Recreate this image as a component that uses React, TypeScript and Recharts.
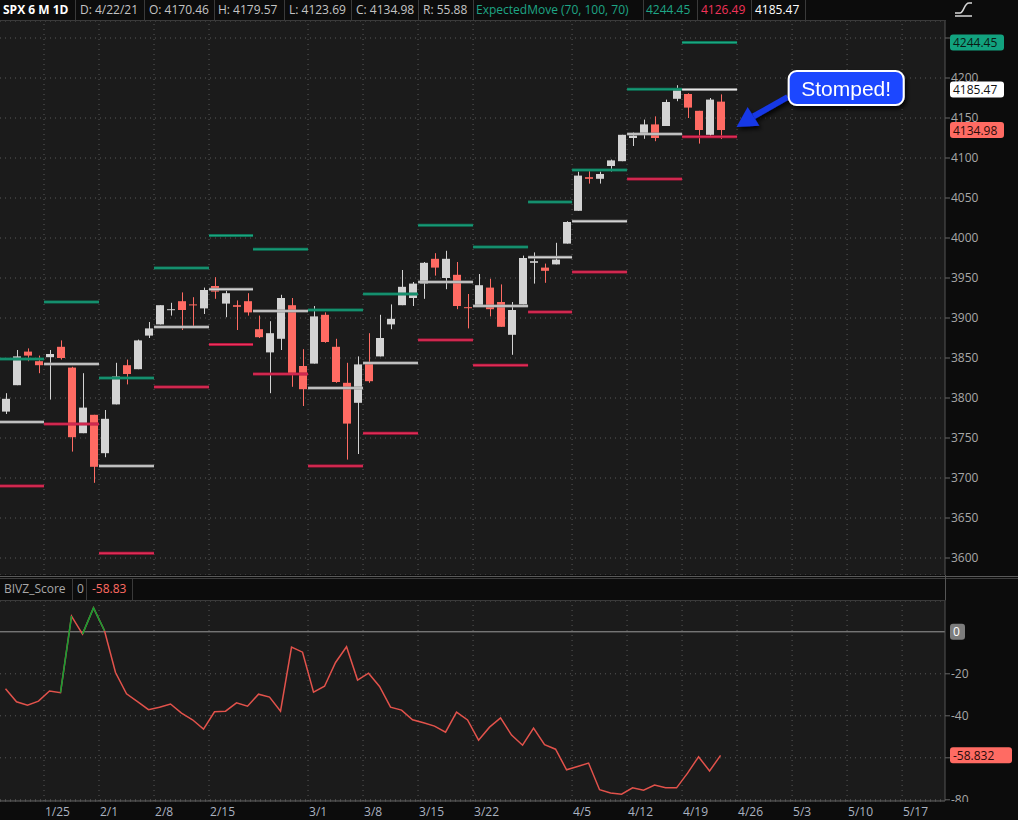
import React from "react";
import {
  ComposedChart,
  Bar,
  Line,
  XAxis,
  YAxis,
  CartesianGrid,
  ReferenceLine,
} from "recharts";

// trading days shown (1/19/21 .. 4/22/21)
const dates = [
  "1/19", "1/20", "1/21", "1/22", "1/25", "1/26", "1/27", "1/28", "1/29",
  "2/1", "2/2", "2/3", "2/4", "2/5", "2/8", "2/9", "2/10", "2/11", "2/12",
  "2/16", "2/17", "2/18", "2/19", "2/22", "2/23", "2/24", "2/25", "2/26",
  "3/1", "3/2", "3/3", "3/4", "3/5", "3/8", "3/9", "3/10", "3/11", "3/12",
  "3/15", "3/16", "3/17", "3/18", "3/19", "3/22", "3/23", "3/24", "3/25", "3/26",
  "3/29", "3/30", "3/31", "4/1", "4/5", "4/6", "4/7", "4/8", "4/9",
  "4/12", "4/13", "4/14", "4/15", "4/16", "4/19", "4/20", "4/21", "4/22",
];

const opens = [
  3783, 3816, 3858, 3846, 3851, 3864, 3838, 3756, 3779,
  3731, 3792, 3841, 3836, 3878, 3892, 3910, 3921, 3917, 3912,
  3940, 3918, 3916, 3921, 3886, 3857, 3874, 3916, 3840,
  3843, 3904, 3864, 3819, 3794, 3844, 3852, 3892, 3916, 3925,
  3943, 3974, 3950, 3954, 3913.5, 3916, 3938, 3920, 3879, 3917,
  3969, 3963, 3967, 3993, 4034, 4076, 4074, 4090, 4096,
  4125, 4130, 4142, 4140, 4174, 4180, 4159, 4129, 4170.46,
];
const highs = [
  3806, 3860, 3862, 3853, 3860, 3872, 3839, 3831, 3779,
  3785, 3844, 3848, 3873, 3895, 3916, 3919, 3932, 3926, 3938,
  3951, 3934, 3922, 3931, 3903, 3896, 3929, 3925, 3861,
  3915, 3907, 3874, 3844, 3852, 3881, 3904, 3917, 3960, 3945,
  3970, 3981, 3984, 3970, 3930, 3955, 3949, 3942, 3920, 3978,
  3982, 3968, 3994, 4021, 4083, 4086, 4083, 4098, 4129,
  4132, 4148, 4152, 4173, 4191, 4181, 4159, 4175, 4179.57,
];
const lows = [
  3780, 3816, 3846, 3831, 3798, 3848, 3733, 3756, 3694,
  3726, 3792, 3817, 3836, 3875, 3892, 3903, 3885, 3890, 3905,
  3924, 3901, 3885, 3903, 3875, 3806, 3860, 3814, 3790,
  3843, 3869, 3819, 3723, 3730, 3819, 3852, 3886, 3916, 3915,
  3924, 3953, 3936, 3911, 3887, 3914, 3902, 3889, 3854, 3917,
  3943, 3944, 3967, 3993, 4034, 4068, 4068, 4083, 4096,
  4115, 4124, 4121, 4140, 4171, 4150, 4118, 4126, 4123.69,
];
const closes = [
  3799, 3852, 3853, 3841, 3855, 3850, 3751, 3788, 3714,
  3774, 3827, 3830, 3872, 3887, 3916, 3911, 3910, 3916, 3935,
  3933, 3931, 3914, 3907, 3876, 3881, 3925, 3829, 3811,
  3902, 3870, 3820, 3768, 3842, 3821, 3875, 3899, 3939, 3943,
  3969, 3963, 3974, 3915, 3913, 3941, 3911, 3889, 3910, 3975,
  3971, 3959, 3973, 4020, 4078, 4074, 4080, 4097, 4129,
  4128, 4142, 4125, 4170, 4185, 4163, 4135, 4173, 4134.98,
];

// BIVZ_Score study, one value per trading day
const bivz = [
  -27.1, -33.3, -34.9, -33, -28.2, -29, 7.5, -1.1, 11.4,
  0.5, -19.4, -29.5, -33.2, -37.1, -35.9, -34.4, -38.7, -41.9, -46.3,
  -38.1, -37.8, -33.8, -35.4, -29.7, -31.1, -37.8, -7.3, -9.7,
  -28.7, -25.9, -14.6, -7.1, -23, -19.7, -26, -35.9, -37.3, -41.9,
  -43.3, -44.9, -47.8, -38.2, -42, -51.6, -45.4, -41, -49.2, -54,
  -45.9, -53.7, -55.9, -65.7, -64.1, -62.5, -75.2, -76.8, -77.3,
  -74.3, -75.4, -73, -74.3, -74.3, -67.3, -59.5, -66.3, -58.832,
];

// weekly expected move levels (first / last trading-day index of each week)
const weekStart = [0, 4, 9, 14, 19, 23, 28, 33, 38, 43, 48, 52, 57, 62];
const weekEnd = [3, 8, 13, 18, 22, 27, 32, 37, 42, 47, 51, 56, 61, 66];
const emUpper = [3848.75, 3920, 3825, 3962.5, 4003, 3986, 3910, 3930, 4016, 3988.75, 4045, 4085, 4186, 4244.45];
const emMid = [3770, 3842.5, 3715, 3888.75, 3936, 3908.75, 3812.5, 3843.75, 3945, 3915, 3976, 4021, 4130, 4185.47];
const emLower = [3690, 3767.5, 3606, 3813.75, 3867, 3830, 3715, 3756, 3872.5, 3841, 3907.5, 3957.5, 4073.75, 4126.49];

const tickIdx = [4, 9, 14, 19, 28, 33, 38, 43, 52, 57, 62, 67, 72, 77, 82];
const tickLabels = ["1/25", "2/1", "2/8", "2/15", "3/1", "3/8", "3/15", "3/22", "4/5", "4/12", "4/19", "4/26", "5/3", "5/10", "5/17"];

const priceTicks = [3600, 3650, 3700, 3750, 3800, 3850, 3900, 3950, 4000, 4050, 4100, 4150, 4200, 4250];
const scoreTicks = [-80, -60, -40, -20];

const X_DOMAIN: [number, number] = [-0.5, 85.4];
const PRICE_DOMAIN: [number, number] = [3578.75, 4271.25];
const SCORE_DOMAIN: [number, number] = [-80.57, 14.67];
const FONT = '"Open Sans", "DejaVu Sans", sans-serif';
const BG = "#0c0c0c";
const PLOT_BG = "#1b1b1b";
const GRID = "#585858";
const AXIS_TEXT = "#a8a8a8";
const UP = "#d3d3d3";
const DOWN = "#ff6b63";

const candles = dates.map((d, i) => ({
  i,
  date: d,
  o: opens[i],
  h: highs[i],
  l: lows[i],
  c: closes[i],
}));

// green where the segment ends at or above zero
const greenRuns: number[][] = [];
let run: number[] | null = null;
for (let i = 1; i < bivz.length; i++) {
  if (bivz[i] >= 0) {
    if (!run) {
      run = [i - 1];
      greenRuns.push(run);
    }
    run.push(i);
  } else run = null;
}

const scoreRows = bivz.map((v, i) => {
  const row: any = { i, score: v };
  greenRuns.forEach((r, k) => {
    row["g" + k] = r.includes(i) ? v : null;
  });
  return row;
});

function Candle(props: any) {
  const { x, y, width, height, payload } = props;
  if (!payload || !Number.isFinite(y) || !Number.isFinite(height)) return null;
  const top = Math.min(y, y + height);
  const span = Math.abs(height);
  const k = span / (payload.h - payload.l || 1);
  const yOf = (v: number) => top + (payload.h - v) * k;
  const color = payload.c >= payload.o ? UP : DOWN;
  const cx = Math.floor(x + width / 2) + 0.5;
  const bodyTop = yOf(Math.max(payload.o, payload.c));
  const bodyH = Math.max(1, yOf(Math.min(payload.o, payload.c)) - bodyTop);
  return (
    <g>
      <line x1={cx} x2={cx} y1={top} y2={top + span} stroke={color} strokeWidth={1} />
      <rect x={cx - 4.5} y={bodyTop} width={8} height={bodyH} fill={color} />
    </g>
  );
}

const badge = (text: string, bg: string, fg: string, w: number) => (p: any) => {
  const vb = p.viewBox || {};
  const x = (vb.x || 0) + (vb.width || 0) + 5;
  const y = vb.y || 0;
  return (
    <g>
      <rect x={x} y={y - 8} width={w} height={16} rx={3} fill={bg} />
      <text x={x + 3} y={y + 4.5} fill={fg} fontSize={12} fontFamily={FONT}>
        {text}
      </text>
    </g>
  );
};

function Callout(props: any) {
  const { x1, y1, x2, y2 } = props;
  if (![x1, y1, x2, y2].every(Number.isFinite)) return null;
  const dx = x2 - x1;
  const dy = y2 - y1;
  const len = Math.hypot(dx, dy) || 1;
  const ux = dx / len;
  const uy = dy / len;
  const bx = x2 - ux * 20;
  const by = y2 - uy * 20;
  const nx = -uy;
  const ny = ux;
  return (
    <g filter="url(#calloutShadow)">
      <line x1={x1} y1={y1 + 2} x2={bx} y2={by} stroke="#1737e6" strokeWidth={6} />
      <polygon
        points={`${x2},${y2} ${bx + nx * 11},${by + ny * 11} ${bx - nx * 11},${by - ny * 11}`}
        fill="#1737e6"
      />
      <rect x={x1 + 1} y={y1 - 24} width={115} height={34} rx={8} fill="#1f47ff" stroke="#ffffff" strokeWidth={2} />
      <text
        x={x1 + 58.5}
        y={y1 + 1}
        textAnchor="middle"
        fill="#ffffff"
        fontSize={21}
        fontFamily='"Liberation Sans", Arial, sans-serif'
      >
        Stomped!
      </text>
    </g>
  );
}

function DateTick(props: any) {
  const { x, y, payload } = props;
  const k = tickIdx.indexOf(Math.round(payload.value + 0.5));
  return (
    <text x={x + 1} y={y + 15} fill="#aab2c0" fontSize={12} fontFamily={FONT}>
      {tickLabels[k]}
    </text>
  );
}

const weekLines = (vals: number[], outer: string, inner: string, name: string) =>
  vals.flatMap((v, w) => {
    const seg = [
      { x: weekStart[w] - 0.5, y: v },
      { x: weekEnd[w] + 0.5, y: v },
    ];
    return [
      <ReferenceLine key={`${name}o${w}`} segment={seg} stroke={outer} strokeWidth={3} />,
      <ReferenceLine key={`${name}i${w}`} segment={seg} stroke={inner} strokeWidth={1} />,
    ];
  });

const weekGrid = tickIdx.map((t) => (
  <ReferenceLine key={`vg${t}`} x={t - 0.5} stroke={GRID} strokeDasharray="1 4" />
));

const last = candles.length - 1;
const lastScore = bivz[bivz.length - 1];
const lastUpper = emUpper[emUpper.length - 1];

// the platform hides axis labels that sit under a value badge
const priceLabel = (v: number) => (Math.abs(v - lastUpper) < 8 ? "" : String(v));
const scoreLabel = (v: number) => (Math.abs(v - lastScore) < 4 ? "" : String(v));

const headerCells = [
  { x: 3, text: "SPX 6 M 1D", color: "#ffffff", bold: true },
  { x: 80, text: `D: 4/22/21`, color: "#c4c4c4" },
  { x: 149, text: `O: ${opens[last].toFixed(2)}`, color: "#c4c4c4" },
  { x: 218, text: `H: ${highs[last].toFixed(2)}`, color: "#c4c4c4" },
  { x: 289, text: `L: ${lows[last].toFixed(2)}`, color: "#c4c4c4" },
  { x: 356, text: `C: ${closes[last].toFixed(2)}`, color: "#c4c4c4" },
  { x: 423, text: `R: ${(highs[last] - lows[last]).toFixed(2)}`, color: "#c4c4c4" },
  { x: 476, text: "ExpectedMove (70, 100, 70)", color: "#1ea585" },
  { x: 646, text: lastUpper.toFixed(2), color: "#1ea585" },
  { x: 701, text: emLower[emLower.length - 1].toFixed(2), color: "#f2335a" },
  { x: 755, text: emMid[emMid.length - 1].toFixed(2), color: "#ffffff" },
];
const headerSeps = [75, 144, 214, 284, 351, 418, 473, 643, 697, 751, 805];

const abs = (extra: React.CSSProperties): React.CSSProperties => ({ position: "absolute", ...extra });
const NO_MARGIN = { top: 0, right: 0, bottom: 0, left: 0 };

export default function App() {
  return (
    <div
      style={{
        position: "fixed",
        left: 0,
        top: 0,
        width: 1018,
        height: 820,
        background: BG,
        overflow: "hidden",
        fontFamily: FONT,
      }}
    >
      {/* top header */}
      {headerCells.map((c) => (
        <div
          key={c.x}
          style={abs({
            left: c.x,
            top: 2,
            fontSize: 12,
            lineHeight: "16px",
            color: c.color,
            fontWeight: c.bold ? 700 : 400,
            whiteSpace: "nowrap",
          })}
        >
          {c.text}
        </div>
      ))}
      {headerSeps.map((x) => (
        <div key={x} style={abs({ left: x, top: 0, width: 1, height: 20, background: "#3a3a3a" })} />
      ))}
      <div style={abs({ left: 0, top: 20, width: 946, height: 1, background: "#3a3a3a" })} />
      <svg style={abs({ left: 952, top: 0 })} width={24} height={18}>
        <path d="M3 13 L8 13 C12 13 12 3 17 3 L20 3" stroke="#d8d8d8" strokeWidth={1.5} fill="none" />
        <path d="M3 16 L20 16" stroke="#d8d8d8" strokeWidth={1.5} />
      </svg>

      {/* price panel */}
      <div style={abs({ left: 0, top: 21 })}>
        <ComposedChart width={1018} height={554} data={candles} margin={NO_MARGIN}>
          <CartesianGrid vertical={false} stroke={GRID} strokeDasharray="1 4" fill={PLOT_BG} />
          <XAxis dataKey="i" type="number" domain={X_DOMAIN} allowDataOverflow hide />
          <YAxis
            orientation="right"
            width={73}
            domain={PRICE_DOMAIN}
            allowDataOverflow
            ticks={priceTicks}
            interval={0}
            tickSize={5}
            tickMargin={1}
            tickFormatter={priceLabel}
            tick={{ fill: AXIS_TEXT, fontSize: 12, fontFamily: FONT }}
            axisLine={{ stroke: "#555" }}
            tickLine={{ stroke: "#666" }}
          />
          {weekGrid}
          <Bar
            dataKey={(d: any) => [d.l, d.h]}
            barSize={8}
            shape={(p: any) => <Candle {...p} />}
            isAnimationActive={false}
          />
          {weekLines(emUpper, "#0c7659", "#1fa883", "up")}
          {weekLines(emMid, "#8a8a8a", "#f4f4f4", "mid")}
          {weekLines(emLower, "#b0163d", "#f03a62", "low")}
        </ComposedChart>
      </div>
      {/* price badges + callout, laid over the axis labels */}
      <div style={abs({ left: 0, top: 21, pointerEvents: "none" })}>
        <ComposedChart width={1018} height={554} data={candles} margin={NO_MARGIN}>
          <defs>
            <filter id="calloutShadow" x="-20%" y="-40%" width="150%" height="180%">
              <feDropShadow dx={2} dy={3} stdDeviation={2} floodColor="#000" floodOpacity={0.85} />
            </filter>
          </defs>
          <XAxis dataKey="i" type="number" domain={X_DOMAIN} allowDataOverflow hide />
          <YAxis
            orientation="right"
            width={73}
            domain={PRICE_DOMAIN}
            allowDataOverflow
            tick={false}
            axisLine={false}
            tickLine={false}
          />
          <ReferenceLine
            y={lastUpper}
            stroke="none"
            label={badge(lastUpper.toFixed(2), "#12a27f", "#0c1a14", 54)}
          />
          <ReferenceLine
            y={emMid[emMid.length - 1]}
            stroke="none"
            label={badge(emMid[emMid.length - 1].toFixed(2), "#ffffff", "#111111", 54)}
          />
          <ReferenceLine
            y={closes[last]}
            stroke="none"
            label={badge(closes[last].toFixed(2), DOWN, "#2a0c0a", 54)}
          />
          <ReferenceLine
            segment={[
              { x: 71.1, y: 4178.75 },
              { x: 66.45, y: 4138.75 },
            ]}
            shape={(p: any) => <Callout {...p} />}
          />
        </ComposedChart>
      </div>

      {/* divider + study header */}
      <div style={abs({ left: 0, top: 576, width: 1018, height: 1, background: "#5a5a5a" })} />
      <div style={abs({ left: 0, top: 578, width: 1018, height: 1, background: "#3e3e3e" })} />
      <div style={abs({ left: 945, top: 575, width: 1, height: 26, background: "#555" })} />
      <div style={abs({ left: 4, top: 581, fontSize: 12, lineHeight: "16px", color: "#a8a8a8" })}>BIVZ_Score</div>
      <div style={abs({ left: 77, top: 581, fontSize: 12, lineHeight: "16px", color: "#a8a8a8" })}>0</div>
      <div style={abs({ left: 92, top: 581, fontSize: 12, lineHeight: "16px", color: DOWN })}>
        {lastScore.toFixed(2)}
      </div>
      {[72, 86, 132].map((x) => (
        <div key={x} style={abs({ left: x, top: 579, width: 1, height: 21, background: "#3a3a3a" })} />
      ))}
      <div style={abs({ left: 0, top: 600, width: 946, height: 1, background: "#3a3a3a" })} />

      {/* study panel */}
      <div style={abs({ left: 0, top: 601 })}>
        <ComposedChart width={1018} height={219} data={scoreRows} margin={NO_MARGIN}>
          <CartesianGrid vertical={false} stroke={GRID} strokeDasharray="1 4" fill={PLOT_BG} />
          <XAxis
            dataKey="i"
            type="number"
            domain={X_DOMAIN}
            allowDataOverflow
            ticks={tickIdx.map((t) => t - 0.5)}
            interval={0}
            height={19}
            tickSize={0}
            tickMargin={0}
            tick={(p: any) => <DateTick {...p} />}
            axisLine={{ stroke: "#666" }}
            tickLine={false}
          />
          <YAxis
            orientation="right"
            width={73}
            domain={SCORE_DOMAIN}
            allowDataOverflow
            ticks={scoreTicks}
            interval={0}
            tickSize={5}
            tickMargin={1}
            tickFormatter={scoreLabel}
            tick={{ fill: AXIS_TEXT, fontSize: 12, fontFamily: FONT }}
            axisLine={{ stroke: "#555" }}
            tickLine={{ stroke: "#666" }}
          />
          {weekGrid}
          <ReferenceLine y={0} stroke="#9a9a9a" />
          <Line
            dataKey="score"
            stroke="#e2524b"
            strokeWidth={1.5}
            dot={false}
            activeDot={false}
            isAnimationActive={false}
          />
          {greenRuns.map((_, k) => (
            <Line
              key={`g${k}`}
              dataKey={`g${k}`}
              stroke="#12a032"
              strokeWidth={1.5}
              dot={false}
              activeDot={false}
              connectNulls={false}
              isAnimationActive={false}
            />
          ))}
        </ComposedChart>
      </div>
      <div style={abs({ left: 946, top: 802, width: 72, height: 18, background: BG })} />
      {/* study badges over the axis labels */}
      <div style={abs({ left: 0, top: 601, pointerEvents: "none" })}>
        <ComposedChart width={1018} height={219} data={scoreRows} margin={NO_MARGIN}>
          <XAxis dataKey="i" type="number" domain={X_DOMAIN} allowDataOverflow height={19} tick={false} axisLine={false} tickLine={false} />
          <YAxis
            orientation="right"
            width={73}
            domain={SCORE_DOMAIN}
            allowDataOverflow
            tick={false}
            axisLine={false}
            tickLine={false}
          />
          <ReferenceLine y={0} stroke="none" label={badge("0", "#7c7c7c", "#ffffff", 15)} />
          <ReferenceLine
            y={lastScore}
            stroke="none"
            label={badge(lastScore.toFixed(3), DOWN, "#2a0c0a", 62)}
          />
        </ComposedChart>
      </div>
    </div>
  );
}
